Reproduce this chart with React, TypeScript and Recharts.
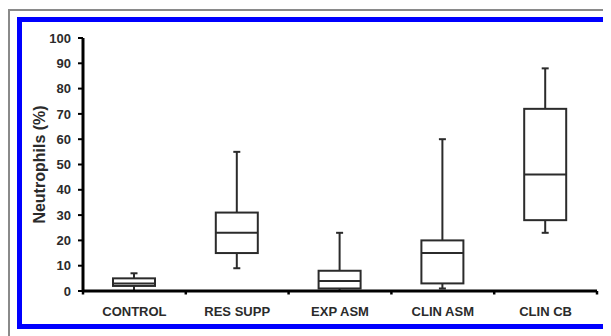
import { ComposedChart, Bar, XAxis, YAxis, Label } from 'recharts'

const categories = ['CONTROL', 'RES SUPP', 'EXP ASM', 'CLIN ASM', 'CLIN CB']
const mins    = [0, 9, 0, 1, 23]
const q1s     = [2, 15, 1, 3, 28]
const medians = [3, 23, 4, 15, 46]
const q3s     = [5, 31, 8, 20, 72]
const maxs    = [7, 55, 23, 60, 88]
const yTicks  = [0, 10, 20, 30, 40, 50, 60, 70, 80, 90, 100]

const data = categories.map((name, i) => ({
  name,
  range: [mins[i], maxs[i]],
  min: mins[i],
  q1: q1s[i],
  median: medians[i],
  q3: q3s[i],
  max: maxs[i],
}))

const INK = '#2b2b2b'
const X_TICK_SIZE = 6
const X_TICK_MARGIN = 10

// draws the whole box plot inside the [min, max] range bar
const BoxShape = (props: any) => {
  const { x, y, width, height, payload } = props
  const top = Math.min(y, y + height)
  const bottom = Math.max(y, y + height)
  const span = payload.max - payload.min || 1
  const py = (v: number) => bottom - ((v - payload.min) / span) * (bottom - top)
  const cx = x + width / 2
  const cap = 3.5
  return (
    <g stroke={INK} strokeWidth={2} fill="none">
      <line x1={cx} x2={cx} y1={py(payload.max)} y2={py(payload.q3)} />
      <line x1={cx} x2={cx} y1={py(payload.q1)} y2={py(payload.min)} />
      <line x1={cx - cap} x2={cx + cap} y1={py(payload.max)} y2={py(payload.max)} />
      <line x1={cx - cap} x2={cx + cap} y1={py(payload.min)} y2={py(payload.min)} />
      <rect x={x} y={py(payload.q3)} width={width} height={py(payload.q1) - py(payload.q3)} fill="#fff" />
      <line x1={x} x2={x + width} y1={py(payload.median)} y2={py(payload.median)} />
    </g>
  )
}

// category label plus small tick marks on the category boundaries
const CategoryTick = (props: any) => {
  const { x, y, payload, index, visibleTicksCount, width } = props
  const band = width / visibleTicksCount
  const axisY = y - X_TICK_SIZE - X_TICK_MARGIN
  const edges = [x - band / 2]
  if (index === visibleTicksCount - 1) edges.push(x + band / 2)
  return (
    <g>
      {edges.map((ex) => (
        <line key={ex} x1={ex} x2={ex} y1={axisY} y2={axisY + 3.5} stroke="#000" strokeWidth={2.5} />
      ))}
      <text x={x} y={y} dy="0.71em" textAnchor="middle" fill={INK} fontSize={13} fontWeight="bold">
        {payload.value}
      </text>
    </g>
  )
}

export default function App() {
  return (
    <div
      style={{
        position: 'relative',
        width: 603,
        height: 328,
        borderTop: '2px solid #8a8a8a',
        borderLeft: '2px solid #8a8a8a',
        boxSizing: 'border-box',
        marginTop: 1,
      }}
    >
      <div
        style={{
          position: 'absolute',
          left: 7,
          top: 6,
          width: 591,
          height: 312,
          border: '5px solid #0000ff',
          boxSizing: 'border-box',
          background: '#fff',
        }}
      >
        <ComposedChart
          width={581}
          height={302}
          data={data}
          margin={{ top: 16, right: 6, left: 0, bottom: 0 }}
          style={{ fontFamily: 'Liberation Sans, Arial, sans-serif' }}
        >
          <XAxis
            dataKey="name"
            axisLine={{ stroke: '#000', strokeWidth: 3 }}
            tickLine={false}
            tickSize={X_TICK_SIZE}
            tickMargin={X_TICK_MARGIN}
            height={33}
            interval={0}
            tick={<CategoryTick />}
          />
          <YAxis
            domain={[0, 100]}
            ticks={yTicks}
            interval={0}
            width={61}
            axisLine={{ stroke: '#000', strokeWidth: 3 }}
            tickLine={{ stroke: '#000', strokeWidth: 2 }}
            tickSize={5}
            tickMargin={7}
            tick={{ fill: INK, fontSize: 13, fontWeight: 'bold' }}
          >
            <Label
              content={({ viewBox }: any) => {
                const cx = viewBox.x + 17
                const cy = viewBox.y + viewBox.height / 2
                return (
                  <text
                    x={cx}
                    y={cy}
                    transform={`rotate(-90, ${cx}, ${cy})`}
                    textAnchor="middle"
                    dominantBaseline="central"
                    fill={INK}
                    fontSize={16}
                    fontWeight="bold"
                    fontFamily="Liberation Sans, Arial, sans-serif"
                  >
                    Neutrophils (%)
                  </text>
                )
              }}
            />
          </YAxis>
          <Bar dataKey="range" barSize={42} shape={<BoxShape />} isAnimationActive={false} />
        </ComposedChart>
      </div>
    </div>
  )
}
